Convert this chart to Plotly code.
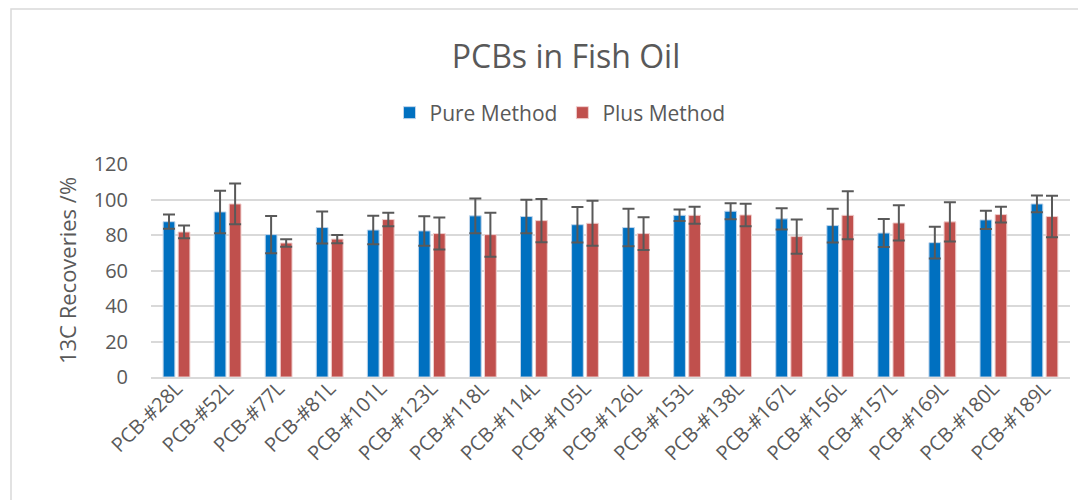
import plotly.graph_objects as go

categories = ["PCB-#28L", "PCB-#52L", "PCB-#77L", "PCB-#81L", "PCB-#101L", "PCB-#123L",
              "PCB-#118L", "PCB-#114L", "PCB-#105L", "PCB-#126L", "PCB-#153L", "PCB-#138L",
              "PCB-#167L", "PCB-#156L", "PCB-#157L", "PCB-#169L", "PCB-#180L", "PCB-#189L"]
pure_values = [87.5, 93.0, 80.2, 84.2, 82.8, 82.3, 90.8, 90.4, 85.8, 84.2, 91.1, 93.4,
               89.1, 85.3, 81.1, 75.7, 88.5, 97.5]
pure_errors = [4.0, 12.0, 10.5, 9.0, 8.0, 8.3, 9.8, 9.4, 10.0, 10.6, 3.2, 4.5,
               6.0, 9.5, 7.9, 9.0, 5.1, 4.7]
plus_values = [81.7, 97.5, 75.5, 77.7, 88.7, 80.8, 80.2, 88.1, 86.6, 80.8, 91.1, 91.3,
               79.1, 91.1, 86.8, 87.4, 91.5, 90.4]
plus_errors = [3.6, 11.5, 2.1, 2.3, 3.8, 9.0, 12.4, 12.2, 12.7, 9.2, 4.8, 6.3,
               9.7, 13.5, 9.9, 11.0, 4.4, 11.7]
y_ticks = [0, 20, 40, 60, 80, 100, 120]

FONT = "Open Sans"
TXT = "#595959"

# page body adds an 8px margin; work in screenshot pixels and compensate
OFF = 8
SW, SH = 1086, 500
W, H = SW - OFF, SH - OFF
# plot area in screenshot pixels
PL, PR, PT, PB = 151, 1070, 164, 377
L = PL - OFF
R = W - (PR - OFF)
T = PT - OFF
B = H - (PB - OFF)
pw = W - L - R
ph = H - T - B


def px_x(x):
    return (x - OFF - L) / pw


def px_y(y):
    return (H - B - (y - OFF)) / ph


fig = go.Figure()
fig.add_trace(go.Bar(
    name="Pure Method", x=categories, y=pure_values,
    marker=dict(color="#0070C0", line=dict(color="#BFD4EA", width=1)),
    error_y=dict(type="data", array=pure_errors, visible=True,
                 color="#595959", thickness=2, width=6),
))
fig.add_trace(go.Bar(
    name="Plus Method", x=categories, y=plus_values,
    marker=dict(color="#C0504D", line=dict(color="#F0CFCE", width=1)),
    error_y=dict(type="data", array=plus_errors, visible=True,
                 color="#595959", thickness=2, width=6),
))

fig.update_layout(
    width=W, height=H,
    margin=dict(l=L, r=R, t=T, b=B, autoexpand=False),
    paper_bgcolor="white", plot_bgcolor="white",
    font=dict(family=FONT, color=TXT, size=19),
    title=dict(text="PCBs in Fish Oil", x=(566 - OFF) / W, xanchor="center",
               y=1 - (57 - OFF) / H, yanchor="middle", xref="container", yref="container",
               font=dict(size=32, color=TXT, family=FONT)),
    barmode="group", bargap=0.41, bargroupgap=0.22,
    showlegend=True,
    legend=dict(orientation="h", x=px_x(560), xanchor="center",
                y=px_y(113), yanchor="middle",
                font=dict(size=21, color=TXT, family=FONT),
                itemwidth=30, tracegroupgap=0, bgcolor="rgba(0,0,0,0)"),
    xaxis=dict(tickangle=-45, tickfont=dict(size=20, color=TXT, family=FONT),
               ticklabelstandoff=-10,
               showline=True, linecolor="#D9D9D9", linewidth=1.5,
               ticks="", showgrid=False, automargin=False),
    yaxis=dict(range=[0, 120], tickvals=y_ticks, ticktext=[str(v) for v in y_ticks],
               tickfont=dict(size=20, color=TXT, family=FONT),
               ticklabelstandoff=22,
               showgrid=True, gridcolor="#D9D9D9", gridwidth=1.5,
               zeroline=False, showline=False, ticks="",
               title=dict(text="13C Recoveries /%", font=dict(size=22, color=TXT, family=FONT),
                          standoff=10),
               automargin=False),
    shapes=[dict(type="rect", xref="paper", yref="paper",
                 x0=px_x(11), x1=px_x(1095), y0=px_y(510), y1=px_y(9),
                 line=dict(color="#D9D9D9", width=1.5), fillcolor="rgba(0,0,0,0)",
                 layer="below")],
)

fig.write_html("out.html")
